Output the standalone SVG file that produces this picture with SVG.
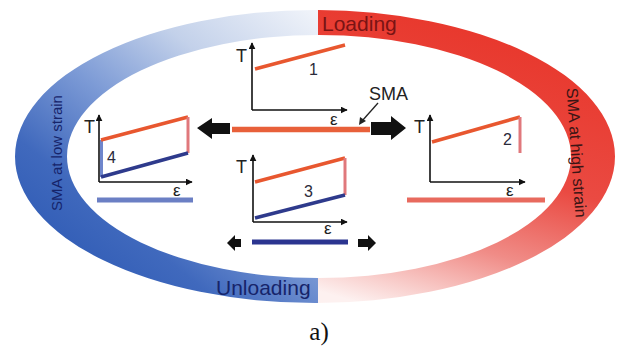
<svg xmlns="http://www.w3.org/2000/svg" width="626" height="346" viewBox="0 0 626 346">
<defs>
<linearGradient id="gBlue" gradientUnits="userSpaceOnUse" x1="317" y1="10" x2="90" y2="290">
<stop offset="0" stop-color="#f1f4fa"/>
<stop offset="0.3" stop-color="#c3d1ea"/>
<stop offset="0.55" stop-color="#7d9bd6"/>
<stop offset="0.8" stop-color="#4069bd"/>
<stop offset="1" stop-color="#2f5bb5"/>
</linearGradient>
<linearGradient id="gRed" gradientUnits="userSpaceOnUse" x1="430" y1="15" x2="350" y2="300">
<stop offset="0" stop-color="#e8382d"/>
<stop offset="0.45" stop-color="#ea4a42"/>
<stop offset="0.72" stop-color="#f08c87"/>
<stop offset="1" stop-color="#fdf1f0"/>
</linearGradient>
<clipPath id="cLeft"><rect x="0" y="0" width="318" height="346"/></clipPath>
<clipPath id="cRight"><rect x="318" y="0" width="308" height="346"/></clipPath>
<marker id="ax" viewBox="0 0 10 10" refX="9" refY="5" markerWidth="7" markerHeight="7" markerUnits="userSpaceOnUse" orient="auto">
<path d="M0,0 L10,5 L0,10 z" fill="#111"/>
</marker>
<style>
.axis{stroke:#111;stroke-width:1.6;fill:none}
.red{stroke:#e8572f;stroke-width:3.5;fill:none}
.pink{stroke:#e0787c;stroke-width:3;fill:none}
.blue{stroke:#2e3a8c;stroke-width:3.5;fill:none}
.lbl{font-family:"Liberation Sans",Arial,sans-serif;font-size:18px;fill:#222}
.num{font-family:"Liberation Sans",Arial,sans-serif;font-size:16px;fill:#2a2a3a}
.eps{font-family:"Liberation Sans",Arial,sans-serif;font-size:17px;fill:#222}
.big{font-family:"Liberation Sans",Arial,sans-serif;font-size:21px}
.side{font-family:"Liberation Sans",Arial,sans-serif}
.barr{fill:#111}
</style>
</defs>
<rect width="626" height="346" fill="#fff"/>

<g id="ring">
<path clip-path="url(#cLeft)" fill="url(#gBlue)" fill-rule="evenodd" d="M15,156.5 A300,146.5 0 1 0 615,156.5 A300,146.5 0 1 0 15,156.5 Z M67,156.5 A252,121.5 0 1 0 571,156.5 A252,121.5 0 1 0 67,156.5 Z"/>
<path clip-path="url(#cRight)" fill="url(#gRed)" fill-rule="evenodd" d="M15,156.5 A300,146.5 0 1 0 615,156.5 A300,146.5 0 1 0 15,156.5 Z M67,156.5 A252,121.5 0 1 0 571,156.5 A252,121.5 0 1 0 67,156.5 Z"/>
</g>

<g id="loading-label">
<text class="big" x="322" y="31" fill="#7a1414">Loading</text>
</g>
<g id="unloading-label">
<text class="big" x="216" y="295" fill="#16246a">Unloading</text>
</g>
<g id="low-strain-label">
<text class="side" transform="translate(62,153) rotate(-90)" text-anchor="middle" font-size="15" fill="#16246a">SMA at low strain</text>
</g>
<g id="high-strain-label">
<text class="side" transform="translate(571,153) rotate(86)" text-anchor="middle" font-size="16" fill="#3b1515">SMA at high strain</text>
</g>

<g id="chart1">
<line class="axis" x1="252" y1="110" x2="252" y2="43" marker-end="url(#ax)"/>
<line class="axis" x1="252" y1="110" x2="347" y2="110" marker-end="url(#ax)"/>
<text class="lbl" x="236" y="62">T</text>
<line class="red" x1="255" y1="69" x2="345" y2="45"/>
<text class="num" x="309" y="75">1</text>
<text class="eps" x="330" y="125">ε</text>
</g>

<g id="sma-bar">
<line x1="232" y1="129.5" x2="370" y2="129.5" stroke="#e8603a" stroke-width="5.5"/>
<text class="lbl" x="369" y="100" font-size="17">SMA</text>
</g>

<g id="chart2">
<line class="axis" x1="430" y1="182" x2="430" y2="115" marker-end="url(#ax)"/>
<line class="axis" x1="430" y1="182" x2="525" y2="182" marker-end="url(#ax)"/>
<text class="lbl" x="414" y="133">T</text>
<polyline class="red" points="432,142 520,117"/>
<line class="pink" x1="520" y1="117" x2="520" y2="153"/>
<text class="num" x="503" y="145">2</text>
<text class="eps" x="506" y="196">ε</text>
<line x1="407" y1="200" x2="545" y2="200" stroke="#e86a5e" stroke-width="5"/>
</g>

<g id="chart3">
<line class="axis" x1="253" y1="222" x2="253" y2="155" marker-end="url(#ax)"/>
<line class="axis" x1="253" y1="222" x2="347" y2="222" marker-end="url(#ax)"/>
<text class="lbl" x="236" y="173">T</text>
<line class="red" x1="255" y1="182" x2="345" y2="158"/>
<line class="pink" x1="345" y1="158" x2="345" y2="195"/>
<line class="blue" x1="345" y1="195" x2="255" y2="218"/>
<text class="num" x="304" y="197">3</text>
<text class="eps" x="324" y="234">ε</text>
<line x1="252" y1="242" x2="348" y2="242" stroke="#2b3590" stroke-width="5"/>
</g>

<g id="chart4">
<line class="axis" x1="99" y1="182" x2="99" y2="115" marker-end="url(#ax)"/>
<line class="axis" x1="99" y1="182" x2="192" y2="182" marker-end="url(#ax)"/>
<text class="lbl" x="84" y="133">T</text>
<line x1="101.5" y1="140" x2="101.5" y2="177" stroke="#6f86cc" stroke-width="3"/>
<line class="red" x1="101" y1="140" x2="188" y2="117"/>
<line class="pink" x1="188" y1="117" x2="188" y2="153"/>
<line class="blue" x1="188" y1="153" x2="101" y2="177"/>
<text class="num" x="107" y="163">4</text>
<text class="eps" x="173" y="196">ε</text>
<line x1="97" y1="200" x2="193" y2="200" stroke="#6b7fc4" stroke-width="5"/>
</g>

<g id="connectors">
<polygon class="barr" points="197,128 212,118 212,123 230,123 230,134 212,134 212,139"/>
<polygon class="barr" points="406,128 391,116 391,122 371,122 371,135 391,135 391,140"/>
<polygon class="barr" points="227,243 235,235 235,239 241,239 241,247 235,247 235,251"/>
<polygon class="barr" points="376,243 368,235 368,239 358,239 358,247 368,247 368,251"/>
<line x1="378" y1="103" x2="362" y2="121" stroke="#222" stroke-width="1.3"/>
<polygon points="359,125 360,117 366,121" fill="#222"/>
</g>

<g id="caption">
<text x="319" y="340" text-anchor="middle" font-family="'Liberation Serif',serif" font-size="25" fill="#111">a)</text>
</g>
</svg>
